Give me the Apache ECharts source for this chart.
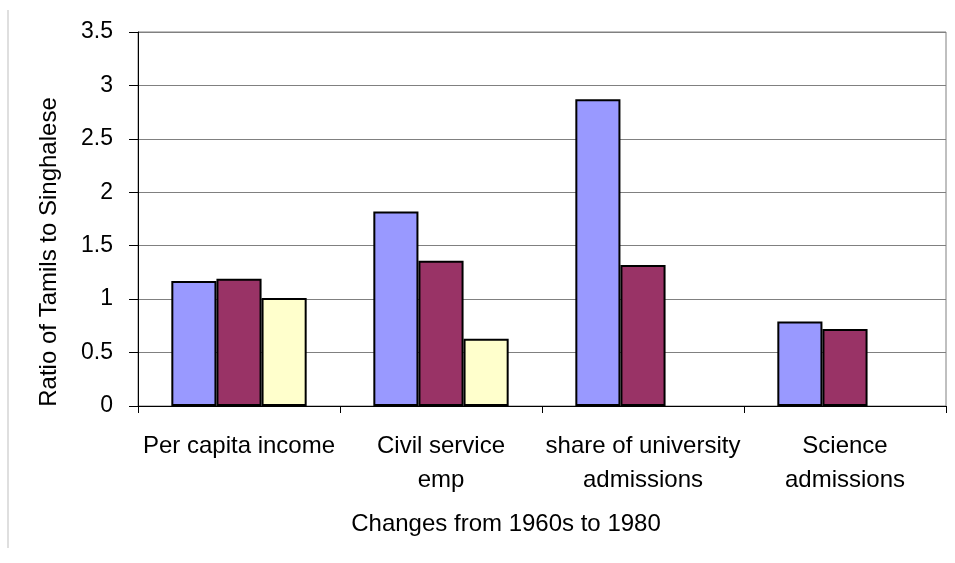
<!DOCTYPE html>
<html>
<head>
<meta charset="utf-8">
<script src="https://cdn.jsdelivr.net/npm/echarts@6/dist/echarts.min.js"></script>
<style>
html,body{margin:0;padding:0;background:#fff;}
#chart{width:955px;height:563px;}
</style>
</head>
<body>
<div id="chart"></div>
<script>
var categories = ['Per capita income', 'Civil service\nemp', 'share of university\nadmissions', 'Science\nadmissions'];
var series1Values = [1.17, 1.82, 2.87, 0.79];
var series2Values = [1.19, 1.36, 1.32, 0.72];
var series3Values = [1.01, 0.63, null, null];
var yTicks = {min: 0, max: 3.5, interval: 0.5};
var xAxisTitle = 'Changes from 1960s to 1980';
var yAxisTitle = 'Ratio of Tamils to Singhalese';

var FONT = '"Liberation Sans", Arial, sans-serif';
var chart = echarts.init(document.getElementById('chart'));
function barSeries(name, data, color) {
  return {
    name: name,
    type: 'bar',
    data: data,
    barGap: '0%',
    barCategoryGap: '33%',
    itemStyle: {color: color, borderColor: '#000', borderWidth: 2}
  };
}
chart.setOption({
  animation: false,
  backgroundColor: '#fff',
  textStyle: {fontFamily: FONT},
  grid: {left: 138, right: 9, top: 32, bottom: 157, show: true, borderColor: '#808080', borderWidth: 1},
  graphic: [{
    type: 'line',
    shape: {x1: 8, y1: 10, x2: 8, y2: 548},
    style: {stroke: '#d4d4d4', lineWidth: 1.5}
  }],
  xAxis: {
    type: 'category',
    data: categories,
    name: xAxisTitle,
    nameLocation: 'middle',
    nameGap: 106,
    nameTextStyle: {fontSize: 24, color: '#000', fontFamily: FONT, padding: [0, 72, 0, 0]},
    axisLine: {lineStyle: {color: '#000', width: 1}},
    axisTick: {show: true, length: 7, inside: false, alignWithLabel: false, lineStyle: {color: '#000'}},
    axisLabel: {fontSize: 24, color: '#000', lineHeight: 34, margin: 23, interval: 0, fontFamily: FONT}
  },
  yAxis: {
    type: 'value',
    min: yTicks.min,
    max: yTicks.max,
    interval: yTicks.interval,
    name: yAxisTitle,
    nameLocation: 'middle',
    nameGap: 77,
    nameTextStyle: {fontSize: 24, color: '#000', fontFamily: FONT, padding: [0, 66, 0, 0]},
    axisLine: {show: true, lineStyle: {color: '#000', width: 1}},
    axisTick: {show: true, length: 9, lineStyle: {color: '#000'}},
    axisLabel: {fontSize: 23, color: '#000', margin: 25, fontFamily: FONT},
    splitLine: {show: true, lineStyle: {color: '#808080', width: 1}}
  },
  series: [
    barSeries('Series 1', series1Values, '#9999FF'),
    barSeries('Series 2', series2Values, '#993366'),
    barSeries('Series 3', series3Values, '#FFFFCC')
  ]
});
</script>
</body>
</html>
